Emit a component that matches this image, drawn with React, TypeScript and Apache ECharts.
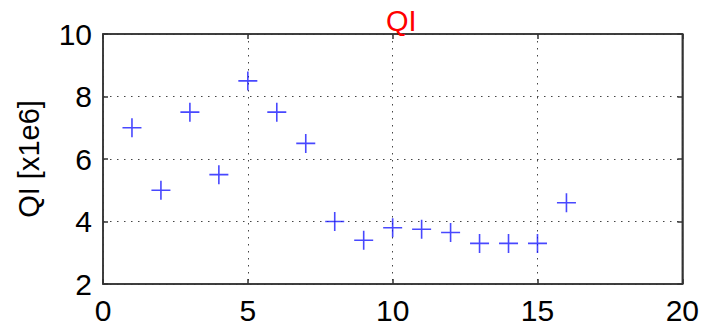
import React, { useEffect, useRef } from "react";
import * as echarts from "echarts";

const xValues = [1, 2, 3, 4, 5, 6, 7, 8, 9, 10, 11, 12, 13, 14, 15, 16];
const qiValues = [7.0, 5.0, 7.5, 5.5, 8.5, 7.5, 6.5, 4.0, 3.4, 3.8, 3.75, 3.65, 3.3, 3.3, 3.3, 4.6];
const titleText = "QI";
const yAxisName = "QI [x1e6]";

const FONT = "'Liberation Sans', Arial, sans-serif";
const AX = "#333333";

export default function App() {
  const ref = useRef<HTMLDivElement>(null);
  useEffect(() => {
    if (!ref.current) return;
    const chart = echarts.init(ref.current, null, { renderer: "svg" });
    const data = xValues.map((x, i) => [x, qiValues[i]]);
    const split = { show: true, lineStyle: { color: "#444", type: [1.5, 5.5] as any, width: 1 } };
    chart.setOption({
      animation: false,
      backgroundColor: "#ffffff",
      title: {
        text: titleText,
        left: 381,
        top: 1,
        textStyle: { color: "#ff0000", fontSize: 29, fontWeight: "normal", fontFamily: FONT },
      },
      grid: { left: 103, right: 17, top: 34, bottom: 40, show: true, borderColor: AX, borderWidth: 1.5, backgroundColor: "transparent" },
      xAxis: [
        {
          type: "value", min: 0, max: 20, interval: 5, position: "bottom",
          axisLine: { show: true, onZero: false, lineStyle: { color: AX, width: 1.5 } },
          axisTick: { show: true, inside: true, length: 5, lineStyle: { color: AX, width: 1.5 } },
          axisLabel: { color: "#000", fontSize: 30, fontFamily: FONT, margin: 11 },
          splitLine: split,
        },
        {
          type: "value", min: 0, max: 20, interval: 5, position: "top",
          axisLine: { show: true, onZero: false, lineStyle: { color: AX, width: 1.5 } },
          axisTick: { show: true, inside: true, length: 5, lineStyle: { color: AX, width: 1.5 } },
          axisLabel: { show: false },
          splitLine: { show: false },
        },
      ],
      yAxis: [
        {
          type: "value", min: 2, max: 10, interval: 2, position: "left",
          name: yAxisName, nameLocation: "middle", nameGap: 60, nameRotate: 90,
          nameTextStyle: { color: "#000", fontSize: 29, fontFamily: FONT },
          axisLine: { show: true, onZero: false, lineStyle: { color: AX, width: 1.5 } },
          axisTick: { show: true, inside: true, length: 5, lineStyle: { color: AX, width: 1.5 } },
          axisLabel: { color: "#000", fontSize: 30, fontFamily: FONT, margin: 11 },
          splitLine: split,
        },
        {
          type: "value", min: 2, max: 10, interval: 2, position: "right",
          axisLine: { show: true, onZero: false, lineStyle: { color: AX, width: 1.5 } },
          axisTick: { show: true, inside: true, length: 5, lineStyle: { color: AX, width: 1.5 } },
          axisLabel: { show: false },
          splitLine: { show: false },
        },
      ],
      series: [
        {
          type: "scatter",
          xAxisIndex: 0,
          yAxisIndex: 0,
          data,
          symbol: "path://M0 5H10M5 0V10",
          symbolSize: 19,
          itemStyle: { color: "transparent", borderColor: "#1a1aff", borderWidth: 1.6 },
        },
      ],
    });
    return () => chart.dispose();
  }, []);
  return <div ref={ref} style={{ width: 702, height: 325, position: "absolute", left: 0, top: 0 }} />;
}
